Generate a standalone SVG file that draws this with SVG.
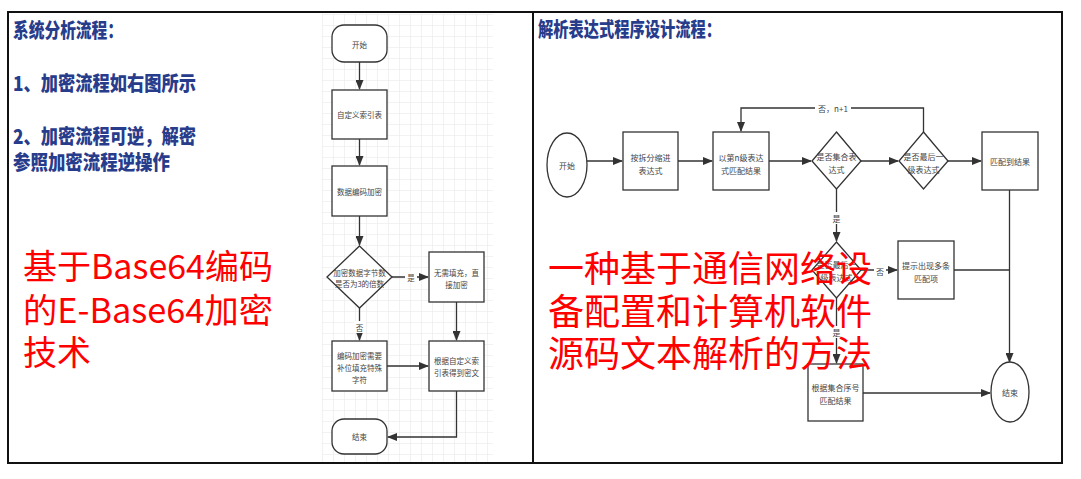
<svg xmlns="http://www.w3.org/2000/svg" width="1081" height="479" viewBox="0 0 1081 479">
<style>
.frame{fill:none;stroke:#111;stroke-width:2}
.node{fill:#fff;stroke:#333;stroke-width:1.3}
.conn{fill:none;stroke:#333;stroke-width:1.3}
.sm{font-family:"Noto Sans CJK SC","Noto Sans",sans-serif;font-size:7.5px;fill:#444;text-anchor:middle;dominant-baseline:central}
.rs{font-family:"Noto Sans CJK SC","Noto Sans",sans-serif;font-size:8px;fill:#444;text-anchor:middle;dominant-baseline:central}
.lbl{font-family:"Noto Sans CJK SC","Noto Sans",sans-serif;font-size:8px;fill:#444;text-anchor:middle;dominant-baseline:central}
.blue{font-family:"Noto Sans CJK SC","Noto Sans",sans-serif;font-weight:900;font-size:20px;fill:#283c8c}
.red{font-family:"Noto Sans CJK SC","Noto Sans",sans-serif;fill:#ff0000}
</style>
<defs>
<marker id="arr" markerWidth="10" markerHeight="8" refX="9" refY="4" orient="auto" markerUnits="userSpaceOnUse">
<path d="M0,0 L10,4 L0,8 Z" fill="#333"/>
</marker>
<pattern id="grid" width="11" height="11" patternUnits="userSpaceOnUse" x="322" y="14">
<path d="M11,0 L0,0 L0,11" fill="none" stroke="#e6e6e6" stroke-width="1"/>
</pattern>
</defs>
<rect x="0" y="0" width="1081" height="479" fill="#fff"/>
<rect x="322" y="14" width="171" height="448" fill="url(#grid)"/>
<g id="frame">
<rect class="frame" x="8" y="12" width="1054" height="451"/>
<line class="frame" x1="533" y1="12" x2="533" y2="463"/>
</g>
<g id="left-text">
<text class="blue" x="13" y="38" textLength="110" lengthAdjust="spacingAndGlyphs">系统分析流程：</text>
<text class="blue" x="13" y="91" textLength="183" lengthAdjust="spacingAndGlyphs">1、加密流程如右图所示</text>
<text class="blue" x="13" y="144" textLength="183" lengthAdjust="spacingAndGlyphs">2、加密流程可逆，解密</text>
<text class="blue" x="13" y="170" textLength="157" lengthAdjust="spacingAndGlyphs">参照加密流程逆操作</text>
</g>
<g id="right-title">
<text class="blue" x="538" y="37" textLength="183" lengthAdjust="spacingAndGlyphs">解析表达式程序设计流程：</text>
</g>
<g id="connectors">
<line class="conn" x1="359.5" y1="62" x2="359.5" y2="89" marker-end="url(#arr)"/>
<line class="conn" x1="359.5" y1="139" x2="359.5" y2="165" marker-end="url(#arr)"/>
<line class="conn" x1="359.5" y1="216" x2="359.5" y2="245" marker-end="url(#arr)"/>
<line class="conn" x1="392" y1="277" x2="428" y2="277" marker-end="url(#arr)"/>
<line class="conn" x1="359.5" y1="308" x2="359.5" y2="340" marker-end="url(#arr)"/>
<line class="conn" x1="456.5" y1="302" x2="456.5" y2="340" marker-end="url(#arr)"/>
<line class="conn" x1="387" y1="366" x2="428" y2="366" marker-end="url(#arr)"/>
<polyline class="conn" points="456.5,391 456.5,437 388,437" marker-end="url(#arr)"/>
<line class="conn" x1="587" y1="161" x2="622" y2="161" marker-end="url(#arr)"/>
<line class="conn" x1="678" y1="161" x2="712" y2="161" marker-end="url(#arr)"/>
<line class="conn" x1="769" y1="161" x2="811" y2="161" marker-end="url(#arr)"/>
<line class="conn" x1="861" y1="161" x2="898" y2="161" marker-end="url(#arr)"/>
<line class="conn" x1="948" y1="161" x2="981" y2="161" marker-end="url(#arr)"/>
<polyline class="conn" points="923.5,132 923.5,108 741,108 741,131" marker-end="url(#arr)"/>
<line class="conn" x1="1009.5" y1="190" x2="1009.5" y2="362" marker-end="url(#arr)"/>
<line class="conn" x1="836.5" y1="189" x2="836.5" y2="241" marker-end="url(#arr)"/>
<line class="conn" x1="861" y1="270" x2="897" y2="270" marker-end="url(#arr)"/>
<polyline class="conn" points="954,270 1009.5,270"/>
<line class="conn" x1="836.5" y1="298" x2="836.5" y2="363" marker-end="url(#arr)"/>
<line class="conn" x1="863" y1="393" x2="990" y2="393" marker-end="url(#arr)"/>
<rect x="405" y="271" width="12" height="12" fill="#fff"/>
<text class="sm" x="411" y="277">是</text>
<rect x="354" y="321" width="12" height="12" fill="#fff"/>
<text class="sm" x="359.5" y="327">否</text>
<rect x="815" y="102" width="36" height="12" fill="#fff"/>
<text class="lbl" x="833" y="108">否，n+1</text>
<rect x="830" y="212" width="12" height="12" fill="#fff"/>
<text class="lbl" x="836.5" y="218">是</text>
<rect x="874" y="264" width="12" height="12" fill="#fff"/>
<text class="lbl" x="880" y="271">否</text>
<rect x="830" y="326" width="12" height="12" fill="#fff"/>
<text class="lbl" x="836.5" y="332">是</text>
</g>
<g id="l-start"><rect class="node" x="332" y="25" width="55" height="37" rx="12"/><text class="sm" x="359.5" y="44">开始</text></g>
<g id="l-table"><rect class="node" x="332" y="90" width="55" height="49"/><text class="sm" x="359.5" y="114.5">自定义索引表</text></g>
<g id="l-encode"><rect class="node" x="332" y="166" width="55" height="50"/><text class="sm" x="359.5" y="191">数据编码加密</text></g>
<g id="l-check"><polygon class="node" points="359.5,246 392,277 359.5,308 327,277"/><text class="sm" x="359.5" y="272">加密数据字节数</text><text class="sm" x="359.5" y="283">是否为3的倍数</text></g>
<g id="l-nopad"><rect class="node" x="429" y="252" width="55" height="50"/><text class="sm" x="456.5" y="272">无需填充，直</text><text class="sm" x="456.5" y="284">接加密</text></g>
<g id="l-pad"><rect class="node" x="332" y="341" width="55" height="50"/><text class="sm" x="359.5" y="355">编码加密需要</text><text class="sm" x="359.5" y="367">补位填充特殊</text><text class="sm" x="359.5" y="379">字符</text></g>
<g id="l-cipher"><rect class="node" x="429" y="341" width="55" height="50"/><text class="sm" x="456.5" y="360">根据自定义索</text><text class="sm" x="456.5" y="372">引表得到密文</text></g>
<g id="l-end"><rect class="node" x="332" y="419" width="55" height="35" rx="12"/><text class="sm" x="359.5" y="436.5">结束</text></g>
<g id="r-start"><ellipse class="node" cx="567" cy="165" rx="20" ry="32"/><text class="rs" x="567" y="165">开始</text></g>
<g id="r-split"><rect class="node" x="623" y="132" width="55" height="58"/><text class="rs" x="650.5" y="157">按拆分缩进</text><text class="rs" x="650.5" y="170">表达式</text></g>
<g id="r-level"><rect class="node" x="713" y="132" width="56" height="58"/><text class="rs" x="741" y="157">以第n级表达</text><text class="rs" x="741" y="170">式匹配结果</text></g>
<g id="r-set"><polygon class="node" points="836.5,132 861,161 836.5,189 812,161"/><text class="rs" x="836.5" y="156">是否集合表</text><text class="rs" x="836.5" y="169">达式</text></g>
<g id="r-last"><polygon class="node" points="923.5,132 948,161 923.5,189 899,161"/><text class="rs" x="923.5" y="156">是否最后一</text><text class="rs" x="923.5" y="169">级表达式</text></g>
<g id="r-found"><rect class="node" x="982" y="132" width="56" height="58"/><text class="rs" x="1010" y="161">匹配到结果</text></g>
<g id="r-check2"><polygon class="node" points="836.5,242 861,270 836.5,298 812,270"/><text class="rs" x="836.5" y="264">是否最后一</text><text class="rs" x="836.5" y="277">级表达式</text></g>
<g id="r-multi"><rect class="node" x="898" y="241" width="56" height="58"/><text class="rs" x="926" y="265">提示出现多条</text><text class="rs" x="926" y="278">匹配项</text></g>
<g id="r-byidx"><rect class="node" x="808" y="364" width="55" height="57"/><text class="rs" x="835.5" y="387">根据集合序号</text><text class="rs" x="835.5" y="400">匹配结果</text></g>
<g id="r-end"><ellipse class="node" cx="1010" cy="392" rx="19" ry="30"/><text class="rs" x="1010" y="392">结束</text></g>
<g id="red-left">
<text class="red" x="23" y="279" font-size="34" textLength="250" lengthAdjust="spacingAndGlyphs">基于Base64编码</text>
<text class="red" x="23" y="323" font-size="34" textLength="250" lengthAdjust="spacingAndGlyphs">的E-Base64加密</text>
<text class="red" x="23" y="365" font-size="34">技术</text>
</g>
<g id="red-right">
<text class="red" x="548" y="282" font-size="36" textLength="324" lengthAdjust="spacingAndGlyphs">一种基于通信网络设</text>
<text class="red" x="548" y="325" font-size="36" textLength="324" lengthAdjust="spacingAndGlyphs">备配置和计算机软件</text>
<text class="red" x="548" y="367" font-size="36" textLength="324" lengthAdjust="spacingAndGlyphs">源码文本解析的方法</text>
</g>
</svg>
